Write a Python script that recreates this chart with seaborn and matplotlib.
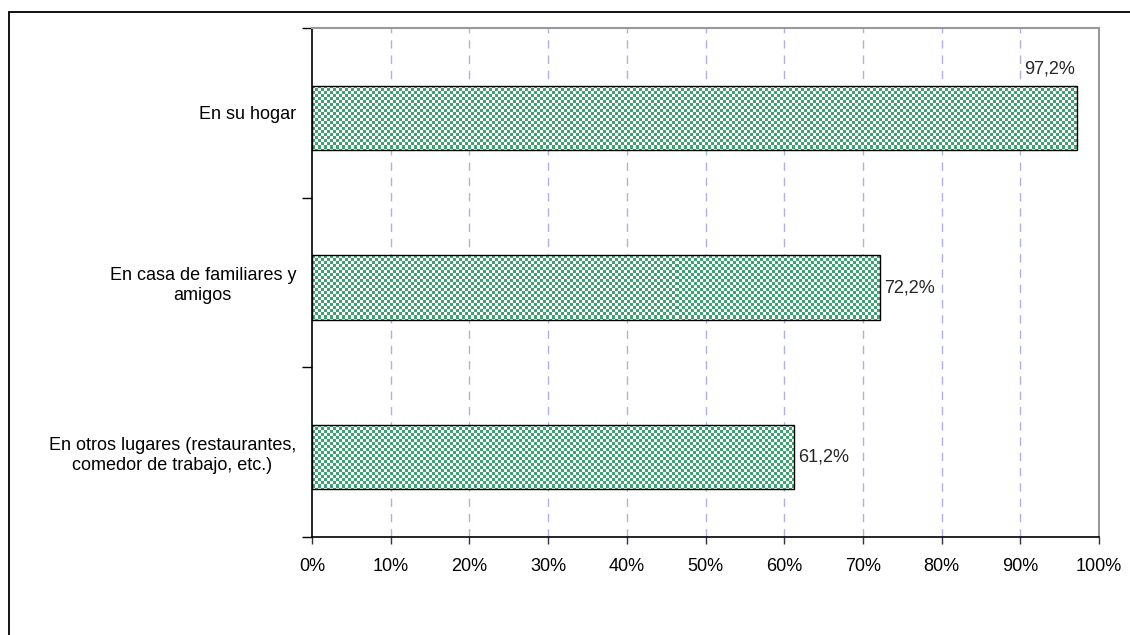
import numpy as np
import pandas as pd
import matplotlib
matplotlib.use("Agg")
import matplotlib.pyplot as plt
from matplotlib.patches import Rectangle
from matplotlib.ticker import FixedLocator
import seaborn as sns

# Lugares de consumo (porcentaje de hogares)
lugares = [
    "En su hogar",
    "En casa de familiares y\namigos",
    "En otros lugares (restaurantes,\ncomedor de trabajo, etc.)",
]
porcentajes = [97.2, 72.2, 61.2]
etiquetas = ["97,2%", "72,2%", "61,2%"]
ticks_x = [0, 10, 20, 30, 40, 50, 60, 70, 80, 90, 100]
ticks_x_txt = [f"{t}%" for t in ticks_x]

df = pd.DataFrame({"lugar": lugares, "pct": porcentajes})

sns.set_theme(style="white")
plt.rcParams["font.family"] = ["Liberation Sans", "DejaVu Sans"]
FS = 13

W, H = 1130, 635
fig = plt.figure(figsize=(W / 100, H / 100), dpi=100)
fig.patch.set_facecolor("white")

# Marco exterior del gráfico
fig.patches.append(Rectangle((9 / W, -0.05), 1.2, 1 - 12 / H + 0.05,
                             transform=fig.transFigure, fill=False,
                             edgecolor="black", linewidth=1.3, zorder=0))

ax = fig.add_axes([312 / W, 1 - 537 / H, (1099 - 312) / W, (537 - 28) / H])

sns.barplot(data=df, x="pct", y="lugar", orient="h", ax=ax, width=0.38,
            facecolor="none", edgecolor="black", linewidth=1.0, zorder=3)

# Las barras quedan ligeramente por debajo del centro de su banda
for patch in ax.patches:
    patch.set_y(patch.get_y() + 0.03)
    patch.set_facecolor("none")

# Relleno de cuadros verdes dentro de cada barra
cell = 3
nx, ny = 400, 40
yy, xx = np.mgrid[0:ny, 0:nx]
checker = ((xx + yy) % 2 == 0)
rgb = np.ones((ny, nx, 3))
green = np.array([0x3c, 0xa3, 0x70]) / 255.0
rgb[checker] = green
px_x = (1099 - 312) / 100.0
px_y = (537 - 28) / 3.0
for patch in list(ax.patches):
    x0, y0 = patch.get_x(), patch.get_y()
    iw = nx * cell / px_x
    ih = ny * cell / px_y
    im = ax.imshow(rgb, extent=(x0, x0 + iw, y0 + ih, y0), interpolation="nearest",
                   aspect="auto", zorder=2)
    im.set_clip_path(patch)
ax.set_xlim(0, 100)
ax.set_ylim(2.5, -0.5)

# Cuadrícula vertical discontinua
for t in ticks_x[1:-1]:
    ax.axvline(t, color="#b0b0e8", linestyle=(0, (6, 5)), linewidth=1.0, zorder=1)

ax.set_xticks(ticks_x)
ax.set_xticklabels(ticks_x_txt, fontsize=FS, color="black")
ax.yaxis.set_major_locator(FixedLocator([-0.5, 0.5, 1.5, 2.5]))
ax.yaxis.set_minor_locator(FixedLocator([0, 1, 2]))
ax.set_yticklabels([], minor=False)
ax.set_yticklabels(lugares, minor=True, fontsize=FS, color="black",
                   multialignment="center")
ax.tick_params(axis="y", which="major", length=7, width=1.0, color="black",
               direction="out", left=True)
ax.tick_params(axis="y", which="minor", length=0, pad=11.5)
ax.tick_params(axis="x", length=5, width=1.0, color="#333333", direction="out",
               bottom=True, pad=10)
ax.set_xlabel("")
ax.set_ylabel("")

for side in ["left", "bottom"]:
    ax.spines[side].set_color("black")
    ax.spines[side].set_linewidth(1.2)
for side in ["top", "right"]:
    ax.spines[side].set_color("#999999")
    ax.spines[side].set_linewidth(1.5)
for s in ax.spines.values():
    s.set_zorder(5)

# Etiquetas de valor
ax.annotate(etiquetas[0], xy=(porcentajes[0], ax.patches[0].get_y()), xytext=(-20, 6),
            textcoords="offset points", ha="center", va="bottom", fontsize=FS)
for i in (1, 2):
    p = ax.patches[i]
    ax.annotate(etiquetas[i], xy=(porcentajes[i], p.get_y() + p.get_height() / 2),
                xytext=(3, 0), textcoords="offset points", ha="left", va="center",
                fontsize=FS)

fig.savefig("out.png", dpi=100, facecolor="white")
